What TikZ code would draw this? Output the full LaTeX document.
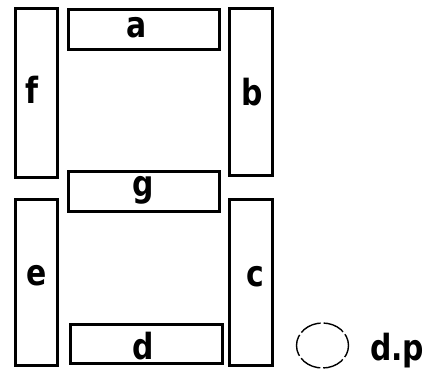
\documentclass[tikz,border=0pt]{standalone}
\usepackage{fontspec}
\setmainfont{DejaVu Sans}[FakeStretch=0.83]
\usetikzlibrary{shapes.geometric}
\tikzset{
  seg/.style={draw=black, line width=3pt, rectangle, inner sep=0pt,
    font=\bfseries\fontsize{36}{36}\selectfont},
  hseg/.style={seg},
  vseg/.style={seg},
  lbl/.style={inner sep=0pt, font=\bfseries\fontsize{36}{36}\selectfont}
}
\begin{document}
\begin{tikzpicture}[x=1pt,y=1pt]
\useasboundingbox (0,0) rectangle (427,369);
% vertical segments (y flipped: 369 - y)
\node[vseg, minimum width=42pt, minimum height=169pt] (f) at (36,{369-93.5}) {};
\node[vseg, minimum width=43pt, minimum height=166.5pt] (b) at (250.5,{369-92.25}) {};
\node[vseg, minimum width=42pt, minimum height=166pt] (e) at (36,{369-282.5}) {};
\node[vseg, minimum width=43pt, minimum height=166pt] (c) at (250.5,{369-282.5}) {};
% horizontal segments
\node[hseg, minimum width=151pt, minimum height=40.5pt] (a) at (143.5,{369-29.75}) {};
\node[hseg, minimum width=151pt, minimum height=40pt] (g) at (143.5,{369-191.5}) {};
\node[hseg, minimum width=152pt, minimum height=39pt] (d) at (146.5,{369-344}) {};
% labels
\node[lbl] (la) at (137,{369-28}) {a};
\node[lbl] (lf) at (32,{369-90}) {f};
\node[lbl] (lb) at (252,{369-92}) {b};
\node[lbl] (lg) at (143,{369-190}) {g};
\node[lbl] (le) at (37,{369-276}) {e};
\node[lbl] (lc) at (255,{369-277}) {c};
\node[lbl] (ld) at (143,{369-346}) {d};
% decimal point
\node[draw=black, line width=1.4pt, ellipse, minimum width=52pt, minimum height=45pt,
  inner sep=0pt, dash pattern=on 22pt off 3pt, dash phase=10pt] (dp) at (322.5,{369-345.5}) {};
\node[lbl, anchor=base west] (dptext) at (370,{369-360.5}) {d.p};
\end{tikzpicture}
\end{document}
